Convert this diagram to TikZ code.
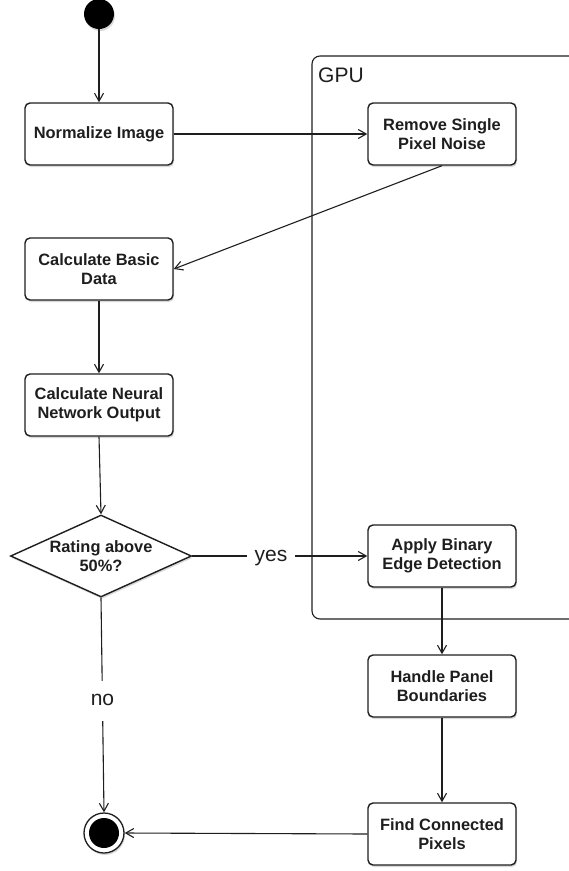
\documentclass[tikz,border=0pt]{standalone}
\usepackage{fontspec}
\setmainfont{Liberation Sans}
\usetikzlibrary{arrows.meta,shapes.geometric,shadows}

\definecolor{ink}{HTML}{1E1E1E}

\begin{document}
\begin{tikzpicture}[x=1pt,y=-1pt,
  line/.style={draw=ink, line width=1.1pt},
  arr/.style={line, -{Straight Barb[length=8pt,width=9pt,line width=1.1pt]}},
  shade/.style={drop shadow={shadow xshift=1pt,shadow yshift=-2pt,opacity=0.3}},
  txt/.style={text=ink, font=\fontsize{16.4}{19}\selectfont\bfseries},
  action/.style={txt, draw=ink, line width=1.4pt, rounded corners=5pt,
    fill=white, shade, minimum width=148pt, minimum height=62pt,
    align=center, inner sep=0pt},
  decision/.style={txt, diamond, draw=ink, line width=1.4pt, fill=white, shade,
    aspect=2.2, minimum width=181pt, minimum height=82pt, inner sep=0pt,
    align=center},
  guard/.style={fill=white, text=ink, font=\fontsize{21}{25}\selectfont,
    inner xsep=8pt, inner ysep=10pt, text height=15pt, text depth=5pt},
]
\useasboundingbox (0,0) rectangle (569,871);

% GPU partition (open to the right)
\draw[draw=ink, line width=1.1pt, rounded corners=8pt]
  (600,56) -- (312,56) -- (312,619) -- (600,619);
\node[anchor=base west, text=ink, font=\fontsize{21}{25}\selectfont, inner sep=0pt]
  (gpu) at (318,82) {GPU};

% initial and final states
\node[circle, fill=black, minimum size=30pt, inner sep=0pt, shade] (start) at (99,14) {};
\node[circle, draw=ink, line width=1.3pt, fill=white, minimum size=40pt,
  inner sep=0pt, shade] (endc) at (104,833) {};
\node[circle, fill=black, minimum size=30pt, inner sep=0pt] (endin) at (endc.center) {};

% activities
\node[action] (norm)   at (99,134)  {Normalize Image};
\node[action] (noise)  at (442,134) {Remove Single\\Pixel Noise};
\node[action] (basic)  at (99,269)  {Calculate Basic\\Data};
\node[action] (neural) at (99,405)  {Calculate Neural\\Network Output};
\node[decision] (dec)  at (101,556) {Rating above\\50\%?};
\node[action] (edge)   at (442,556) {Apply Binary\\Edge Detection};
\node[action] (panel)  at (442,686) {Handle Panel\\Boundaries};
\node[action] (find)   at (442,834) {Find Connected\\Pixels};

% control flow
\draw[arr] (start) -- (norm);
\draw[arr] (norm) -- (noise);
\draw[arr] (noise.south) -- (basic.east);
\draw[arr] (basic) -- (neural);
\draw[arr] (neural.south) -- (dec.north);
\draw[arr] (dec.east) -- node[guard, pos=0.45] (yes) {yes} (edge.west);
\draw[arr] (dec.south) -- node[guard, pos=0.48] (no) {no} (endc.north);
\draw[arr] (edge) -- (panel);
\draw[arr] (panel) -- (find);
\draw[arr] (find.west) -- (endc.east);
\end{tikzpicture}
\end{document}
